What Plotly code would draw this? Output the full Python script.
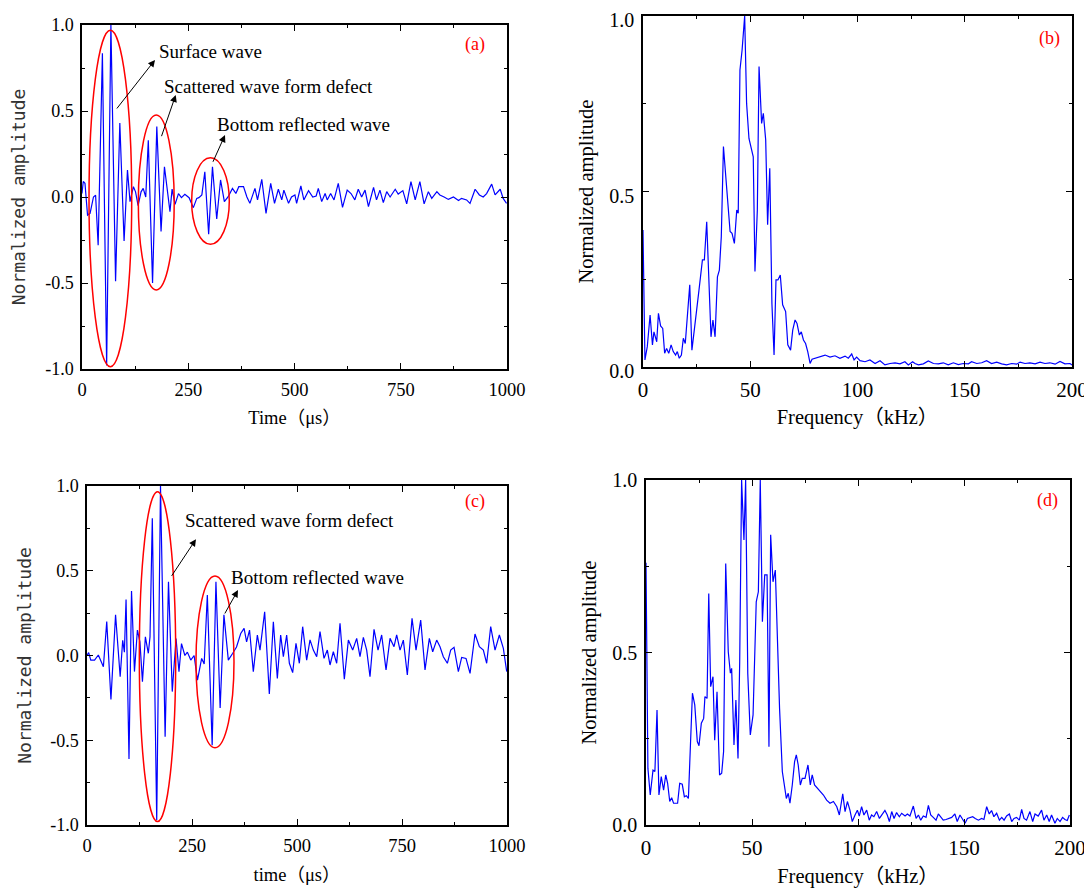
import plotly.graph_objects as go

# ---------------- data ----------------
time_a = [0, 3, 7, 13, 19, 27, 32, 38, 48, 58, 68, 79, 89, 99, 107, 113, 121, 126, 132, 139, 144, 150,
          156, 166, 176, 186, 194, 207, 212, 219, 227, 234, 242, 252, 262, 270, 275, 282, 289, 298, 307,
          317, 326, 335, 344, 354, 362, 369, 380, 388, 395, 407, 413, 423, 433, 444, 453, 462, 470, 475,
          486, 493, 501, 505, 515, 522, 533, 543, 551, 556, 564, 572, 577, 585, 593, 603, 613, 624, 633,
          642, 650, 658, 666, 674, 686, 693, 701, 709, 717, 725, 737, 744, 755, 764, 774, 784, 795, 805,
          815, 823, 835, 842, 852, 862, 874, 886, 893, 905, 913, 925, 935, 944, 952, 964, 972, 984, 991, 999]
amp_a = [0.02, 0.09, 0.08, -0.105, -0.095, 0.0, 0.01, -0.28, 0.835, -0.98, 1.0, -0.49, 0.43, -0.256, 0.157,
         -0.027, 0.06, 0.03, -0.05, 0.03, 0.05, 0.0, 0.33, -0.50, 0.41, -0.20, 0.176, -0.085, 0.046, -0.043,
         0.02, -0.004, 0.016, -0.004, -0.062, -0.008, -0.004, 0.012, 0.147, -0.217, 0.176, -0.128, 0.099,
         -0.027, 0.002, 0.05, 0.021, 0.06, 0.06, 0.0, -0.037, 0.05, -0.017, 0.103, -0.095, 0.079, -0.037,
         0.045, -0.017, 0.04, -0.037, 0.0, 0.012, -0.037, 0.064, -0.017, 0.037, 0.0, 0.006, 0.05, -0.027,
         0.02, -0.017, 0.02, -0.017, 0.079, -0.06, 0.04, 0.02, -0.017, 0.045, 0.0, 0.04, -0.056, 0.056,
         -0.017, 0.04, -0.033, 0.031, 0.0, 0.045, 0.017, 0.037, -0.04, 0.089, -0.017, 0.089, -0.04, 0.031,
         -0.008, 0.031, 0.012, 0.0, -0.014, 0.0, -0.02, -0.008, -0.017, -0.037, 0.045, 0.012, 0.0, 0.02,
         0.075, 0.012, 0.045, -0.008, -0.037]

freq_b = [0, 0.9, 2.0, 3.3, 4.4, 5.1, 6.4, 7.2, 8.2, 9.2, 10.1, 11.0, 12.0, 13.1, 14.1, 15.2, 16.0, 16.9,
          17.9, 18.8, 19.7, 21.8, 22.8, 23.9, 25.0, 26.1, 27.7, 28.6, 29.7, 31.7, 32.6, 33.6, 34.7, 35.6,
          36.5, 37.5, 38.7, 40.6, 41.5, 42.6, 43.7, 44.4, 45.2, 46.2, 47.4, 48.3, 49.4, 51.4, 52.2, 53.3,
          54.1, 55.3, 56.1, 57.2, 58.1, 59.1, 60.1, 61.1, 62.0, 62.9, 64.0, 65.1, 66.5, 67.5, 68.8, 69.8,
          70.9, 71.8, 72.9, 73.8, 74.8, 75.8, 76.8, 77.9, 78.8, 80.2, 82.5, 84.9, 87.2, 89.5, 91.8, 94.2,
          95.7, 97.3, 98.4, 99.6, 101.2, 103.5, 105.8, 108.2, 110.5, 112.8, 115.2, 117.5, 119.8, 122.1,
          123.7, 125.7, 126.8, 128.4, 130.7, 133.0, 135.4, 137.7, 140.0, 142.3, 144.7, 147.0, 149.3, 151.7,
          153.2, 155.6, 157.9, 160.2, 162.5, 164.9, 167.2, 169.5, 171.9, 174.2, 175.8, 178.1, 180.4, 182.8,
          185.1, 187.4, 189.7, 192.1, 194.4, 196.7, 199.1, 200]
amp_b = [0.39, 0.02, 0.058, 0.148, 0.063, 0.10, 0.072, 0.153, 0.117, 0.11, 0.039, 0.053, 0.039, 0.063, 0.044,
         0.034, 0.044, 0.025, 0.034, 0.082, 0.067, 0.234, 0.048, 0.115, 0.162, 0.219, 0.305, 0.305, 0.414,
         0.086, 0.134, 0.086, 0.257, 0.276, 0.371, 0.628, 0.542, 0.386, 0.381, 0.352, 0.447, 0.438, 0.846,
         0.903, 1.0, 0.751, 0.651, 0.599, 0.272, 0.447, 0.856, 0.694, 0.723, 0.647, 0.405, 0.566, 0.181,
         0.034, 0.248, 0.248, 0.262, 0.177, 0.158, 0.063, 0.048, 0.105, 0.134, 0.124, 0.091, 0.10, 0.077,
         0.067, 0.044, 0.01, 0.022, 0.025, 0.029, 0.034, 0.028, 0.032, 0.025, 0.031, 0.025, 0.037, 0.020,
         0.028, 0.018, 0.015, 0.020, 0.010, 0.018, 0.006, 0.010, 0.012, 0.009, 0.015, 0.006, 0.015, 0.010,
         0.006, 0.009, 0.017, 0.010, 0.009, 0.012, 0.006, 0.012, 0.007, 0.010, 0.009, 0.015, 0.010, 0.012,
         0.018, 0.010, 0.014, 0.009, 0.006, 0.010, 0.008, 0.014, 0.010, 0.012, 0.009, 0.014, 0.010, 0.012,
         0.008, 0.016, 0.009, 0.010, 0.006]

time_c = [0, 4, 9, 18, 27, 39, 47, 57, 68, 79, 85, 89, 93, 100, 106, 113, 120, 126, 132, 139, 146, 150,
          155.5, 166, 175, 186, 194, 203, 212, 219, 225, 233, 239, 247, 255, 263, 273, 279, 286.5, 298, 307,
          317, 326, 336.5, 347, 356, 366, 374, 380, 387, 396, 405.6, 411.9, 423, 434.1, 443.7, 453.2, 461.1,
          467.5, 475.4, 481.8, 489.7, 497.6, 505.6, 513.5, 523, 531, 538.9, 546.9, 554.8, 564.3, 572.2,
          578.6, 586.5, 594.5, 602.4, 612.7, 622.3, 632.6, 642.1, 650, 658, 665.9, 673.8, 683.4, 692.9,
          701.6, 712, 721.5, 731, 737.3, 745.3, 753.2, 762.7, 773.9, 783.4, 794.5, 804.8, 815.1, 823.1,
          832.6, 840.5, 848.4, 858, 865.9, 873.9, 884.2, 892.1, 902.4, 912, 923.8, 934.2, 943.7, 951.6,
          961.2, 971.5, 981.8, 991.3, 999.3]
amp_c = [0.0, 0.017, -0.027, -0.027, 0.003, -0.066, 0.2, -0.26, 0.24, -0.125, 0.09, 0.02, 0.33, -0.61, 0.38,
         -0.095, 0.15, 0.08, -0.154, 0.11, 0.013, 0.11, 0.81, -0.97, 1.0, -0.48, 0.435, -0.213, 0.10, -0.095,
         0.07, 0.0, 0.02, -0.027, 0.0, -0.145, -0.017, -0.05, 0.357, -0.53, 0.435, -0.31, 0.24, -0.027, 0.013,
         0.05, 0.13, 0.16, 0.08, 0.15, -0.095, 0.121, 0.032, 0.258, -0.227, 0.199, -0.135, 0.121, -0.007,
         0.121, -0.046, -0.101, 0.072, -0.046, 0.17, -0.027, 0.092, 0.032, -0.007, 0.141, -0.017, 0.032,
         -0.056, 0.022, -0.046, 0.19, -0.14, 0.091, 0.032, 0.101, -0.007, 0.107, 0.032, -0.125, 0.154, 0.032,
         0.121, -0.085, 0.101, 0.052, 0.121, 0.032, 0.091, -0.115, 0.219, 0.032, 0.209, -0.085, 0.101, 0.022,
         0.091, 0.052, -0.007, -0.046, 0.032, 0.048, -0.095, -0.011, -0.017, -0.105, 0.127, 0.052, 0.032,
         -0.046, 0.17, 0.032, 0.121, 0.042, -0.095]

freq_d = [0, 0.9, 2.0, 3.3, 4.2, 5.2, 6.1, 7.2, 8.3, 9.3, 10.2, 11.2, 12.1, 13.0, 14.0, 14.9, 15.9, 17.1,
          18.1, 19.0, 20.0, 21.9, 23.0, 24.2, 25.0, 26.1, 27.2, 27.8, 28.8, 29.6, 30.5, 31.6, 32.4, 33.5,
          34.7, 35.7, 36.6, 37.6, 38.8, 39.8, 40.4, 41.5, 42.4, 43.4, 44.2, 45.1, 46.2, 47.0, 48.0, 49.2,
          50.5, 52.0, 53.0, 53.9, 54.9, 56.0, 57.1, 58.0, 58.8, 59.9, 61.0, 62.3, 63.0, 64.3, 65.4, 66.2,
          67.1, 67.9, 69.0, 70.1, 70.9, 71.8, 72.8, 73.7, 75.0, 76.4, 77.5, 78.4, 79.5, 82.1, 83.7, 85.2,
          86.8, 88.4, 90.0, 91.2, 92.8, 93.9, 95.0, 96.2, 97.3, 98.6, 99.7, 100.6, 101.7, 102.8, 104.1,
          105.3, 106.4, 107.5, 108.8, 110.1, 111.2, 112.7, 113.8, 114.8, 115.9, 117.0, 118.2, 119.5, 120.6,
          122.2, 123.3, 124.5, 126.1, 127.4, 128.5, 129.6, 130.8, 132.1, 133.2, 134.3, 135.5, 136.8, 137.9,
          139.0, 140.2, 141.5, 143.1, 144.2, 145.7, 146.8, 148.1, 149.4, 150.5, 151.6, 152.8, 154.1, 155.3,
          156.8, 158.3, 159.4, 160.7, 161.9, 163.0, 164.1, 165.4, 166.7, 167.8, 168.9, 170.1, 171.4, 172.5,
          173.6, 174.8, 176.1, 177.2, 178.3, 179.5, 181.1, 182.4, 183.5, 185.0, 186.6, 187.7, 189.0, 190.2,
          191.3, 192.9, 194.0, 195.3, 196.5, 197.6, 198.7, 199.7]
amp_d = [0.76, 0.164, 0.087, 0.159, 0.155, 0.333, 0.087, 0.14, 0.101, 0.145, 0.121, 0.068, 0.079, 0.063,
         0.063, 0.063, 0.121, 0.118, 0.082, 0.085, 0.077, 0.382, 0.348, 0.242, 0.23, 0.295, 0.309, 0.372,
         0.367, 0.671, 0.401, 0.43, 0.246, 0.386, 0.145, 0.15, 0.213, 0.758, 0.502, 0.44, 0.454, 0.232, 0.362,
         0.193, 0.473, 1.0, 0.826, 1.0, 0.44, 0.261, 0.319, 0.647, 0.676, 1.0, 0.589, 0.725, 0.725, 0.227,
         0.841, 0.705, 0.739, 0.454, 0.338, 0.155, 0.101, 0.077, 0.092, 0.063, 0.116, 0.184, 0.203, 0.174,
         0.116, 0.135, 0.135, 0.174, 0.116, 0.145, 0.116, 0.097, 0.087, 0.072, 0.063, 0.068, 0.053, 0.029,
         0.09, 0.039, 0.068, 0.043, 0.01, 0.029, 0.043, 0.026, 0.053, 0.029, 0.043, 0.014, 0.029, 0.024,
         0.039, 0.019, 0.029, 0.042, 0.029, 0.01, 0.039, 0.019, 0.036, 0.024, 0.034, 0.026, 0.032, 0.026,
         0.055, 0.019, 0.029, 0.014, 0.026, 0.022, 0.057, 0.029, 0.022, 0.014, 0.032, 0.024, 0.014, 0.016,
         0.019, 0.022, 0.032, 0.01, 0.029, 0.016, 0.005, 0.019, 0.022, 0.024, 0.019, 0.014, 0.019, 0.016,
         0.053, 0.032, 0.042, 0.024, 0.034, 0.014, 0.022, 0.014, 0.026, 0.032, 0.01, 0.019, 0.022, 0.014,
         0.045, 0.019, 0.014, 0.039, 0.01, 0.032, 0.026, 0.043, 0.014, 0.029, 0.01, 0.029, 0.005, 0.019,
         0.01, 0.022, 0.016, 0.013, 0.029]

time_ticks = [0, 250, 500, 750, 1000]
freq_ticks = [0, 50, 100, 150, 200]
amp_ticks_sym = [1.0, 0.5, 0.0, -0.5, -1.0]
amp_ticktext_sym = ["1.0", "0.5", "0.0", "-0.5", "-1.0"]
amp_ticks_pos = [0.0, 0.5, 1.0]
amp_ticktext_pos = ["0.0", "0.5", "1.0"]

# ---------------- figure ----------------
# page body has an 8px margin, so the figure is drawn 8px smaller and offset
OFF = 8
W, H = 1092 - OFF, 888 - OFF
SERIF = "Liberation Serif, Times New Roman, Noto Sans CJK SC, serif"
MONO = "DejaVu Sans Mono, Liberation Mono, monospace"
BLUE = "#0000FF"
RED = "#FF0000"

def px_dom(a, b):
    return [(a - OFF) / W, (b - OFF) / W]

def py_dom(top, bottom):
    return [1 - (bottom - OFF) / H, 1 - (top - OFF) / H]

fig = go.Figure()
line = dict(color=BLUE, width=1.2)
fig.add_trace(go.Scatter(x=time_a, y=amp_a, mode="lines", line=line, xaxis="x", yaxis="y", showlegend=False))
fig.add_trace(go.Scatter(x=freq_b, y=amp_b, mode="lines", line=line, xaxis="x2", yaxis="y2", showlegend=False))
fig.add_trace(go.Scatter(x=time_c, y=amp_c, mode="lines", line=line, xaxis="x3", yaxis="y3", showlegend=False))
fig.add_trace(go.Scatter(x=freq_d, y=amp_d, mode="lines", line=line, xaxis="x4", yaxis="y4", showlegend=False))

def axis(dom, rng, tickvals, ticktext, minor_dtick, title, standoff, anchor, title_font, tick_size, shift=0):
    return dict(
        domain=dom, range=rng, anchor=anchor, autorange=False,
        showline=True, linecolor="black", linewidth=1.5, mirror="ticks",
        ticks="inside", ticklen=6, tickwidth=1.2, tickcolor="black",
        tickvals=tickvals, ticktext=ticktext,
        minor=dict(ticks="inside", ticklen=3.5, tickwidth=1, tickcolor="black",
                   dtick=minor_dtick, tick0=0, showgrid=False),
        showgrid=False, zeroline=False,
        tickfont=dict(family=SERIF, size=tick_size, color="black"),
        title=dict(text=title, font=title_font, standoff=standoff),
        automargin=False, ticklabelstandoff=3, ticklabeloverflow="allow",
        ticklabelshift=shift,
    )

tf_time = dict(family=SERIF, size=18.5, color="black")
tf_freq = dict(family=SERIF, size=20.5, color="black")
tf_mono = dict(family=MONO, size=18, color="#333333")

fig.update_layout(
    width=W, height=H, margin=dict(l=0, r=0, t=0, b=0),
    paper_bgcolor="white", plot_bgcolor="white",
    xaxis=axis(px_dom(82, 507), [0, 1000], time_ticks, [str(v) for v in time_ticks], 125,
               "Time（μs）", 12, "y", tf_time, 18.5),
    yaxis=axis(py_dom(25, 369), [-1, 1], amp_ticks_sym, amp_ticktext_sym, 0.25,
               "Normalized amplitude", 16, "x", tf_mono, 18),
    xaxis2=axis(px_dom(643, 1072), [0, 200], freq_ticks, [str(v) for v in freq_ticks], 25,
                "Frequency（kHz）", 9, "y2", tf_freq, 21),
    yaxis2=axis(py_dom(16, 367), [0, 1], amp_ticks_pos, amp_ticktext_pos, 0.25,
                "Normalized amplitude", 10, "x2", tf_freq, 20, shift=4),
    xaxis3=axis(px_dom(87, 507), [0, 1000], time_ticks, [str(v) for v in time_ticks], 125,
                "time（μs）", 13, "y3", tf_time, 18.5),
    yaxis3=axis(py_dom(486, 825), [-1, 1], amp_ticks_sym, amp_ticktext_sym, 0.25,
                "Normalized amplitude", 14, "x3", tf_mono, 18),
    xaxis4=axis(px_dom(646, 1070), [0, 200], freq_ticks, [str(v) for v in freq_ticks], 25,
                "Frequency（kHz）", 10, "y4", tf_freq, 21),
    yaxis4=axis(py_dom(480, 825), [0, 1], amp_ticks_pos, amp_ticktext_pos, 0.25,
                "Normalized amplitude", 10, "x4", tf_freq, 20),
)

# red ellipses
ellipses = [
    ("x", "y", 16.5, 117, -0.987, 0.97),
    ("x", "y", 132.5, 217, -0.54, 0.477),
    ("x", "y", 258, 346.6, -0.275, 0.228),
    ("x3", "y3", 124.6, 211.2, -0.98, 0.966),
    ("x3", "y3", 259.5, 350, -0.544, 0.469),
]
for xr, yr, x0, x1, y0, y1 in ellipses:
    fig.add_shape(type="circle", xref=xr, yref=yr, x0=x0, x1=x1, y0=y0, y1=y1,
                  line=dict(color=RED, width=1.5))

# arrows (head, tail)
arrows = [
    ("x", "y", 171.8, 0.797, 79.3, 0.506),
    ("x", "y", 220.5, 0.593, 185.9, 0.345),
    ("x", "y", 336.5, 0.36, 306.6, 0.196),
    ("x3", "y3", 259.5, 0.686, 199.2, 0.461),
    ("x3", "y3", 359.5, 0.386, 326.2, 0.239),
]
for xr, yr, hx, hy, tx, ty in arrows:
    fig.add_annotation(xref=xr, yref=yr, axref=xr, ayref=yr, x=hx, y=hy, ax=tx, ay=ty,
                       text="", showarrow=True, arrowhead=2, arrowsize=1.4, arrowwidth=1,
                       arrowcolor="black")

labels = [
    ("x", "y", 176.5, 0.843, "Surface wave"),
    ("x", "y", 188, 0.64, "Scattered wave form defect"),
    ("x", "y", 313, 0.419, "Bottom reflected wave"),
    ("x3", "y3", 228.6, 0.794, "Scattered wave form defect"),
    ("x3", "y3", 338, 0.463, "Bottom reflected wave"),
]
for xr, yr, x, y, txt in labels:
    fig.add_annotation(xref=xr, yref=yr, x=x, y=y, text=txt, showarrow=False,
                       xanchor="left", yanchor="middle",
                       font=dict(family=SERIF, size=19, color="black"))

panel_tags = [
    ("x", "y", 925, 0.884, "(a)"),
    ("x2", "y2", 189.7, 0.937, "(b)"),
    ("x3", "y3", 924, 0.906, "(c)"),
    ("x4", "y4", 189.6, 0.942, "(d)"),
]
for xr, yr, x, y, txt in panel_tags:
    fig.add_annotation(xref=xr, yref=yr, x=x, y=y, text=txt, showarrow=False,
                       xanchor="center", yanchor="middle",
                       font=dict(family=SERIF, size=18, color=RED))

fig.write_html("out.html")
